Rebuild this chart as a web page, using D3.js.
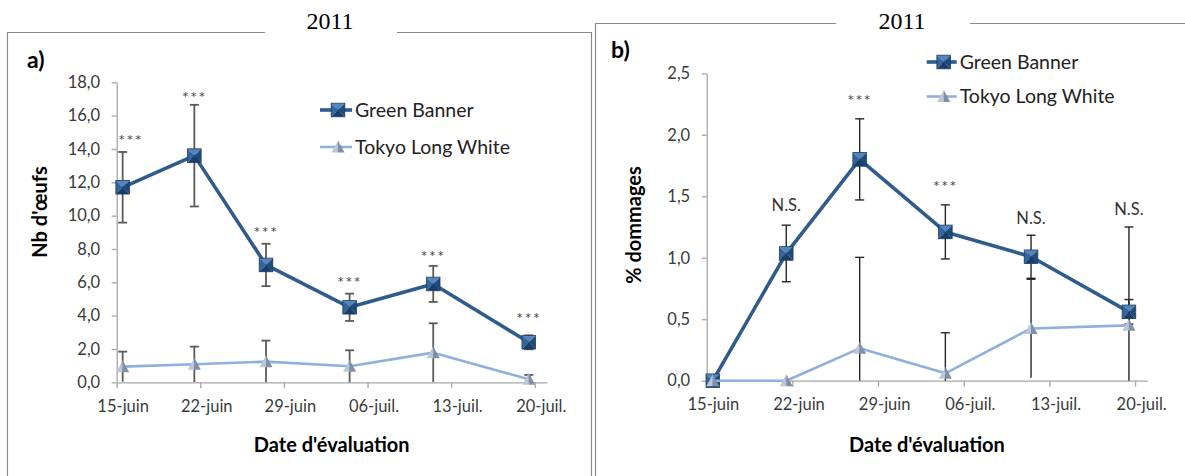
<!DOCTYPE html>
<html><head><meta charset="utf-8">
<script src="https://cdn.jsdelivr.net/npm/d3@7"></script>
<style>
body{margin:0;background:#fff}
svg{display:block}
text{font-family:Lato,"Open Sans",sans-serif}
</style>
</head><body>
<svg id="c" width="1185" height="476"></svg>
<script>
// ---------- DATA ----------
const dates = ["2011-06-15","2011-06-21","2011-06-27","2011-07-04","2011-07-11","2011-07-19"];
const tickDates = ["2011-06-15","2011-06-22","2011-06-29","2011-07-06","2011-07-13","2011-07-20"];
const tickLabels = ["15-juin","22-juin","29-juin","06-juil.","13-juil.","20-juil."];
const seriesNames = ["Green Banner","Tokyo Long White"];
const panelTitle = "2011";

// a) Nb d'oeufs
const eggsYTicks = [0,2,4,6,8,10,12,14,16,18];
const eggsYLabels = ["0,0","2,0","4,0","6,0","8,0","10,0","12,0","14,0","16,0","18,0"];
const eggsGB = [11.70,13.60,7.04,4.50,5.90,2.40];
const eggsGBErr = [2.12,3.05,1.27,0.82,1.08,0.42];
const eggsTLW = [0.94,1.08,1.24,0.96,1.78,0.18];
const eggsTLWErr = [0.90,1.06,1.26,0.96,1.76,0.26];
const eggsSig = ["***","***","***","***","***","***"];
const eggsSigY = [14.70,17.28,9.14,6.14,7.74,3.98];

// b) % dommages
const dmgYTicks = [0,0.5,1,1.5,2,2.5];
const dmgYLabels = ["0,0","0,5","1,0","1,5","2,0","2,5"];
const dmgGB = [0,1.035,1.80,1.21,1.008,0.56];
const dmgGBErr = [0,0.23,0.33,0.22,0.175,0.10];
const dmgTLW = [0,0,0.263,0.06,0.425,0.45];
const dmgTLWErr = [0,0,0.74,0.33,0.40,0.80];
const dmgSig = ["","N.S.","***","***","N.S.","N.S."];
const dmgSigY = [0,1.43,2.30,1.60,1.33,1.40];

// ---------- DRAW ----------
const svg = d3.select("#c");
const parse = d3.utcParse("%Y-%m-%d");
const xStart = parse("2011-06-15"), xEnd = parse("2011-07-21");
const mid = d => d3.utcHour.offset(parse(d), 12);

function squareMarker(g){
  const s = 6.8;
  const tri = [
    [[-s,-s],[s,-s],[0,0],"#5685bd"],
    [[-s,-s],[-s,s],[0,0],"#33659e"],
    [[s,-s],[s,s],[0,0],"#1e4a7c"],
    [[-s,s],[s,s],[0,0],"#183d68"]
  ];
  tri.forEach(t=>g.append("path").attr("d",`M${t[0]}L${t[1]}L${t[2]}Z`).attr("fill",t[3]));
  g.append("rect").attr("x",-s).attr("y",-s).attr("width",2*s).attr("height",2*s)
    .attr("fill","none").attr("stroke","#1d3d63").attr("stroke-width",0.8);
}
function triMarker(g){
  g.append("path").attr("d","M0,-6.5L-6.5,5.5L0,5.5Z").attr("fill","#b9c7d9");
  g.append("path").attr("d","M0,-6.5L6.5,5.5L0,5.5Z").attr("fill","#7f90a7");
}

function drawPanel(o){
  const g = svg.append("g");
  // frame
  g.append("path")
    .attr("d",`M${o.gap[0]},${o.top}H${o.left}V476M${o.gap[1]},${o.top}H${o.right}${o.rightEdge?"V476":""}`)
    .attr("fill","none").attr("stroke","#8a8a8a").attr("stroke-width",1.2);
  g.append("text").attr("x",o.titleX).attr("y",28.5).attr("text-anchor","middle")
    .style("font-family","'Liberation Serif','Times New Roman',serif").style("font-size","24px")
    .text(panelTitle);
  g.append("text").attr("x",o.tagX).attr("y",o.tagY).style("font-weight","bold")
    .style("font-size","23px").text(o.tag);

  const x = d3.scaleUtc().domain([xStart,xEnd]).range(o.xr);
  const y = d3.scaleLinear().domain([0,o.yTicks[o.yTicks.length-1]]).range(o.yr);
  const halfDay = x(d3.utcHour.offset(xStart,12)) - x(xStart);

  // axes
  const ya = g.append("g").attr("transform",`translate(${o.xr[0]},0)`)
    .call(d3.axisLeft(y).tickValues(o.yTicks).tickFormat((d,i)=>o.yLabels[i]).tickSize(5).tickSizeOuter(0).tickPadding(11.5));
  const xa = g.append("g").attr("transform",`translate(0,${o.yr[0]})`)
    .call(d3.axisBottom(x).tickValues(tickDates.map(parse)).tickFormat((d,i)=>tickLabels[i]).tickSize(6).tickSizeOuter(0));
  [ya,xa].forEach(a=>{
    a.select(".domain").attr("stroke","#a6a6a6").attr("stroke-width",1.3);
    a.selectAll(".tick line").attr("stroke","#a6a6a6").attr("stroke-width",1.3);
    a.selectAll("text").style("font-family","Lato").style("font-size","16.5px").attr("fill","#3a3a3a");
  });
  xa.selectAll(".tick text").attr("x",halfDay).attr("y",29.5).attr("dy",null);

  // axis titles
  g.append("text").attr("transform",`translate(${o.yTitlePos[0]},${o.yTitlePos[1]}) rotate(-90)`)
    .attr("text-anchor","middle").style("font-weight","bold").style("font-size","20px").text(o.yTitle);
  g.append("text").attr("x",(o.xr[0]+o.xr[1])/2).attr("y",451.5).attr("text-anchor","middle")
    .style("font-weight","bold").style("font-size","20px").text("Date d'évaluation");

  const series = [
    {v:o.gb, e:o.gbErr, color:"#2f5b8d", w:3.6, marker:squareMarker},
    {v:o.tlw, e:o.tlwErr, color:"#8fb0dc", w:2.6, marker:triMarker}
  ];
  // error bars
  series.forEach(s=>{
    s.v.forEach((v,i)=>{
      if(!s.e[i]) return;
      const cx = x(mid(dates[i]));
      const hi = y(v+s.e[i]), lo = y(Math.max(0,v-s.e[i]));
      const eb = g.append("g").attr("stroke",o.errColor).attr("stroke-width",o.errW);
      eb.append("line").attr("x1",cx).attr("x2",cx).attr("y1",hi).attr("y2",lo);
      eb.append("line").attr("x1",cx-4.5).attr("x2",cx+4.5).attr("y1",hi).attr("y2",hi);
      if(lo < y(0)-6) eb.append("line").attr("x1",cx-4.5).attr("x2",cx+4.5).attr("y1",lo).attr("y2",lo);
    });
  });
  // lines + markers
  series.forEach(s=>{
    const line = d3.line().x((d,i)=>x(mid(dates[i]))).y(d=>y(d));
    g.append("path").attr("d",line(s.v)).attr("fill","none").attr("stroke",s.color)
      .attr("stroke-width",s.w).attr("stroke-linejoin","round");
    s.v.forEach((v,i)=>{
      const m = g.append("g").attr("transform",`translate(${x(mid(dates[i]))},${y(v)})`);
      s.marker(m);
    });
  });
  // significance labels
  o.sig.forEach((t,i)=>{
    if(!t) return;
    const star = t==="***";
    g.append("text").attr("x",x(mid(dates[i]))+(o.sigDx[i]||0))
      .attr("y",y(o.sigY[i])+(star?8.5:6.5)).attr("text-anchor","middle")
      .style("font-size",star?"16px":"16.5px").style("letter-spacing",star?"1.5px":"0")
      .attr("fill",star?"#4a4a4a":"#333").text(t);
  });
  // legend
  series.forEach((s,k)=>{
    const ly = o.legY[k];
    g.append("line").attr("x1",o.legX[0]).attr("x2",o.legX[1]).attr("y1",ly).attr("y2",ly)
      .attr("stroke",s.color).attr("stroke-width",s.w);
    s.marker(g.append("g").attr("transform",`translate(${(o.legX[0]+o.legX[1])/2+2},${ly})`));
    g.append("text").attr("x",o.legX[1]+3).attr("y",ly+6.5).style("font-size","19.5px")
      .attr("fill","#222").text(seriesNames[k]);
  });
}

drawPanel({
  left:7.5, top:32.5, right:591.5, rightEdge:true, gap:[265,397], titleX:330,
  tag:"a)", tagX:27, tagY:68,
  xr:[116.7,546.7], yr:[382.3,82.3],
  yTicks:eggsYTicks, yLabels:eggsYLabels,
  gb:eggsGB, gbErr:eggsGBErr, tlw:eggsTLW, tlwErr:eggsTLWErr,
  sig:eggsSig, sigY:eggsSigY, sigDx:[8,0,0,0,0,0],
  errColor:"#5a5a5a", errW:1.8,
  yTitle:"Nb d'œufs", yTitlePos:[47,212],
  legX:[320,352], legY:[110,147]
});
drawPanel({
  left:595.5, top:23.5, right:1185, rightEdge:false, gap:[836,970], titleX:902,
  tag:"b)", tagX:611, tagY:58,
  xr:[706.7,1147.3], yr:[380.7,73.3],
  yTicks:dmgYTicks, yLabels:dmgYLabels,
  gb:dmgGB, gbErr:dmgGBErr, tlw:dmgTLW, tlwErr:dmgTLWErr,
  sig:dmgSig, sigY:dmgSigY, sigDx:[0,0,0,0,0,0],
  errColor:"#262626", errW:1.4,
  yTitle:"% dommages", yTitlePos:[641,225],
  legX:[926.7,956.7], legY:[62,96.5]
});
</script>
</body></html>
